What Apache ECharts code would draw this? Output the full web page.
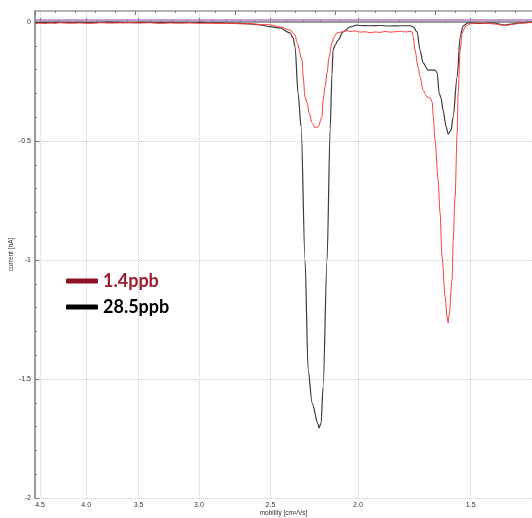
<!DOCTYPE html>
<html><head><meta charset="utf-8">
<script src="https://cdn.jsdelivr.net/npm/echarts@6/dist/echarts.min.js"></script>
<style>html,body{margin:0;padding:0;background:#fff}#c{width:532px;height:518px}</style>
</head><body><div id="c"></div>
<script>
const xTickValues = [4.5, 4.0, 3.5, 3.0, 2.5, 2.0, 1.5];
const xMinorTickValues = [4.4,4.3,4.2,4.1,3.9,3.8,3.7,3.6,3.4,3.3,3.2,3.1,2.9,2.8,2.7,2.6,2.4,2.3,2.2,2.1,1.9,1.8,1.7,1.6,1.4,1.3];
const yTickValues = [-2, -1.5, -1, -0.5, 0];
const yMinorTickValues = [-1.9,-1.8,-1.7,-1.6,-1.4,-1.3,-1.2,-1.1,-0.9,-0.8,-0.7,-0.6,-0.4,-0.3,-0.2,-0.1];
const seriesNames = ['1.4ppb', '28.5ppb'];
const baselineLevel = 0.008;

const mobility285 = [4.558,4.50,4.443,4.387,4.331,4.276,4.168,4.064,3.961,3.861,3.764,3.669,3.577,3.487,3.399,3.313,3.230,3.149,3.069,2.992,2.917,2.843,2.772,2.702,2.634,2.567,2.503,2.440,2.378,2.360,2.348,2.330,2.312,2.289,2.271,2.248,2.214,2.209,2.197,2.186,2.164,2.147,2.137,2.131,2.120,2.104,2.077,2.041,2.004,1.989,1.939,1.890,1.843,1.796,1.751,1.742,1.737,1.720,1.707,1.694,1.672,1.643,1.634,1.626,1.618,1.610,1.597,1.589,1.577,1.569,1.553,1.541,1.530,1.510,1.465,1.439,1.417,1.374,1.346,1.323,1.283];
const current285 = [-0.003,-0.003,-0.002,-0.003,-0.002,-0.002,-0.003,-0.002,-0.003,-0.002,-0.001,-0.002,-0.003,-0.002,-0.002,-0.003,-0.002,-0.003,-0.003,-0.002,-0.004,-0.004,-0.005,-0.006,-0.008,-0.012,-0.020,-0.025,-0.046,-0.067,-0.105,-0.300,-0.440,-1.000,-1.462,-1.601,-1.690,-1.706,-1.685,-1.534,-1.000,-0.450,-0.220,-0.118,-0.097,-0.076,-0.042,-0.021,-0.013,-0.015,-0.016,-0.015,-0.017,-0.016,-0.016,-0.018,-0.021,-0.042,-0.118,-0.172,-0.202,-0.202,-0.214,-0.298,-0.319,-0.370,-0.441,-0.471,-0.454,-0.399,-0.231,-0.063,-0.017,-0.004,-0.006,-0.005,-0.004,-0.013,-0.008,-0.004,-0.001];

const mobility14 = [4.558,4.50,4.443,4.387,4.331,4.276,4.168,4.064,3.961,3.861,3.764,3.669,3.577,3.487,3.399,3.313,3.230,3.149,3.069,2.992,2.917,2.843,2.772,2.702,2.634,2.567,2.503,2.440,2.378,2.348,2.336,2.306,2.300,2.289,2.277,2.265,2.248,2.231,2.214,2.192,2.186,2.175,2.164,2.153,2.137,2.126,2.110,2.083,2.056,2.041,2.015,1.989,1.964,1.939,1.914,1.890,1.867,1.843,1.819,1.796,1.773,1.751,1.742,1.737,1.729,1.716,1.707,1.694,1.677,1.664,1.655,1.651,1.643,1.630,1.622,1.614,1.601,1.593,1.589,1.585,1.573,1.569,1.561,1.553,1.549,1.541,1.533,1.522,1.503,1.465,1.439,1.417,1.374,1.346,1.323,1.283];
const current14 = [-0.008,-0.005,-0.007,-0.004,-0.006,-0.003,-0.005,-0.004,-0.006,-0.003,-0.005,-0.004,-0.002,-0.005,-0.003,-0.006,-0.004,-0.005,-0.003,-0.006,-0.004,-0.007,-0.005,-0.008,-0.007,-0.011,-0.012,-0.021,-0.034,-0.055,-0.088,-0.160,-0.231,-0.315,-0.340,-0.382,-0.424,-0.445,-0.441,-0.399,-0.328,-0.273,-0.214,-0.147,-0.088,-0.063,-0.046,-0.042,-0.036,-0.040,-0.038,-0.043,-0.041,-0.045,-0.042,-0.044,-0.040,-0.043,-0.041,-0.039,-0.042,-0.040,-0.042,-0.063,-0.118,-0.189,-0.231,-0.286,-0.315,-0.319,-0.336,-0.391,-0.496,-0.664,-0.803,-0.987,-1.155,-1.240,-1.265,-1.230,-1.084,-0.920,-0.735,-0.470,-0.300,-0.118,-0.046,-0.021,-0.008,-0.004,-0.006,-0.008,-0.015,-0.010,-0.005,-0.002];

const pairs = (xs, ys) => xs.map((x, i) => [x, ys[i]]);
const axisGray = '#9a9a9a';
const labelFont = { fontFamily: 'Liberation Sans', fontSize: 7, color: '#333' };

const chart = echarts.init(document.getElementById('c'), null, { renderer: 'canvas' });
chart.setOption({
  animation: false,
  backgroundColor: '#fff',
  grid: { left: 35, right: 0, top: 11, bottom: 20, containLabel: false, outerBoundsMode: 'none' },
  legend: {
    orient: 'vertical', left: 61, top: 266, itemWidth: 32, itemHeight: 5, itemGap: 6,
    icon: 'roundRect', selectedMode: false,
    textStyle: { fontFamily: 'Lato', fontWeight: 'bold', fontSize: 18, lineHeight: 20 },
    data: [
      { name: seriesNames[0], itemStyle: { color: '#8e1024' }, textStyle: { color: '#9b1c2e' } },
      { name: seriesNames[1], itemStyle: { color: '#000' }, textStyle: { color: '#000' } }
    ]
  },
  xAxis: [
    {
      type: 'log', inverse: true, min: 1.283, max: 4.558, position: 'bottom',
      name: 'mobility [cm\u00b2/Vs]', nameLocation: 'middle', nameGap: 12, nameMoveOverlap: false,
      nameTextStyle: { fontFamily: 'Liberation Sans', fontSize: 6.5, color: '#333' },
      axisLine: { show: true, lineStyle: { color: axisGray, width: 2 } },
      axisTick: { show: true, inside: true, length: 4, customValues: xTickValues, lineStyle: { color: '#777' } },
      axisLabel: { show: true, margin: 4, customValues: xTickValues, formatter: v => Number(v).toFixed(1), ...labelFont },
      splitLine: { show: true, lineStyle: { color: '#d0d0d0', type: 'dotted', width: 1 } },
      minorTick: { show: false }, minorSplitLine: { show: false }
    },
    {
      type: 'log', inverse: true, min: 1.283, max: 4.558, position: 'bottom',
      axisLine: { show: false },
      axisTick: { show: true, inside: true, length: 2, customValues: xMinorTickValues, lineStyle: { color: '#777' } },
      axisLabel: { show: false },
      splitLine: { show: false }
    },
    {
      type: 'value', min: 0, max: 497, interval: 100, position: 'top',
      axisLine: { show: true, onZero: false, lineStyle: { color: axisGray, width: 1.5 } },
      axisTick: { show: true, inside: true, length: 4, lineStyle: { color: '#777' } },
      minorTick: { show: true, splitNumber: 5, length: 2, lineStyle: { color: '#777' } },
      axisLabel: { show: false },
      splitLine: { show: false }
    }
  ],
  yAxis: [
    {
      type: 'value', min: -2, max: 0.046, position: 'left',
      name: 'current [nA]', nameLocation: 'middle', nameGap: 20, nameMoveOverlap: false,
      nameTextStyle: { fontFamily: 'Liberation Sans', fontSize: 6.5, color: '#333' },
      axisLine: { show: true, onZero: false, lineStyle: { color: axisGray, width: 2 } },
      axisTick: { show: true, inside: true, length: 4, customValues: yTickValues, lineStyle: { color: '#777' } },
      axisLabel: { show: true, margin: 4, customValues: yTickValues, ...labelFont },
      splitLine: { show: true, lineStyle: { color: '#d0d0d0', type: 'dotted', width: 1 } }
    },
    {
      type: 'value', min: -2, max: 0.046, position: 'left',
      axisLine: { show: false },
      axisTick: { show: true, inside: true, length: 2, customValues: yMinorTickValues, lineStyle: { color: '#777' } },
      axisLabel: { show: false },
      splitLine: { show: false }
    }
  ],
  series: [
    {
      name: seriesNames[0], type: 'line', xAxisIndex: 0, yAxisIndex: 0,
      data: pairs(mobility14, current14), showSymbol: false, symbol: 'none',
      smooth: 0.3, smoothMonotone: 'x',
      lineStyle: { color: '#ff3c3c', width: 1 }, itemStyle: { color: '#ff3c3c' }, z: 3
    },
    {
      name: seriesNames[1], type: 'line', xAxisIndex: 0, yAxisIndex: 0,
      data: pairs(mobility285, current285), showSymbol: false, symbol: 'none',
      smooth: 0.3, smoothMonotone: 'x',
      lineStyle: { color: '#3a3a3a', width: 1.2 }, itemStyle: { color: '#3a3a3a' }, z: 2,
      markLine: {
        silent: true, symbol: 'none', label: { show: false },
        lineStyle: { color: '#b07cc6', width: 1.5, type: 'solid' },
        data: [{ yAxis: baselineLevel }]
      }
    }
  ]
});
</script>
</body></html>
